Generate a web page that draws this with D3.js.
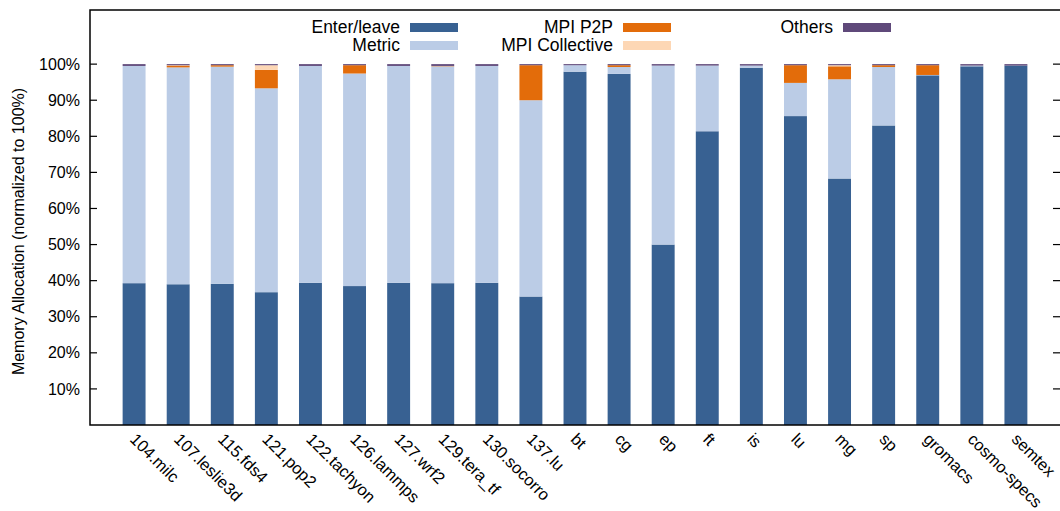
<!DOCTYPE html>
<html>
<head>
<meta charset="utf-8">
<script src="https://cdn.jsdelivr.net/npm/d3@7"></script>
<style>
  body { margin: 0; background: #fff; }
  text { font-family: 'Liberation Sans', Arial, Helvetica, sans-serif; fill: #000; }
</style>
</head>
<body>
<svg id="chart" width="1060" height="511"></svg>
<script>
// benchmarks on the x axis
var categories = ['104.milc', '107.leslie3d', '115.fds4', '121.pop2', '122.tachyon', '126.lammps',
  '127.wrf2', '129.tera_tf', '130.socorro', '137.lu', 'bt', 'cg', 'ep', 'ft', 'is', 'lu', 'mg', 'sp',
  'gromacs', 'cosmo-specs', 'semtex']

// share of memory allocation per category, in percent
var enterLeave = [39.3, 39.0, 39.1, 36.8, 39.4, 38.5, 39.4, 39.3, 39.4, 35.6, 97.9, 97.3, 50.0, 81.4, 99.0, 85.6, 68.3, 83.0, 96.9, 99.4, 99.6]
var metric     = [60.2, 60.1, 60.2, 56.5, 60.1, 58.9, 60.1, 60.1, 60.1, 54.4, 1.8, 1.9, 49.6, 18.2, 0.6, 9.2, 27.5, 16.2, 0.1, 0.2, 0.0]
var mpiP2P     = [0.0, 0.5, 0.4, 5.1, 0.0, 2.3, 0.0, 0.1, 0.0, 9.7, 0.0, 0.5, 0.0, 0.0, 0.0, 4.9, 3.6, 0.5, 2.7, 0.0, 0.0]
var mpiColl    = [0.0, 0.1, 0.0, 1.3, 0.0, 0.0, 0.0, 0.0, 0.0, 0.0, 0.0, 0.0, 0.0, 0.0, 0.0, 0.0, 0.3, 0.0, 0.0, 0.0, 0.0]
var others     = [0.5, 0.3, 0.3, 0.3, 0.5, 0.3, 0.5, 0.5, 0.5, 0.3, 0.3, 0.3, 0.4, 0.4, 0.4, 0.3, 0.3, 0.3, 0.3, 0.4, 0.4]

var yTicks = [10, 20, 30, 40, 50, 60, 70, 80, 90, 100]

var seriesNames = ['Enter/leave', 'Metric', 'MPI P2P', 'MPI Collective', 'Others']
var colors = ['#386192', '#bbcce6', '#e36c0a', '#fdd7b5', '#5f497a']

var table = categories.map((c, i) => ({
  name: c,
  'Enter/leave': enterLeave[i],
  'Metric': metric[i],
  'MPI P2P': mpiP2P[i],
  'MPI Collective': mpiColl[i],
  'Others': others[i]
}))

var svg = d3.select('#chart')
var m = {left: 90, top: 10, right: 1060, bottom: 425}

// gnuplot style xrange [-1:21]
var x = d3.scaleLinear().domain([-1, 21]).range([m.left, m.right])
var y = d3.scaleLinear().domain([0, 115]).range([m.bottom, m.top])
var color = d3.scaleOrdinal().domain(seriesNames).range(colors)
var barW = (x(1) - x(0)) * 0.52

var stacked = d3.stack().keys(seriesNames)(table)

svg.append('g')
  .selectAll('g')
  .data(stacked)
  .join('g')
  .attr('fill', d => color(d.key))
  .selectAll('rect')
  .data(d => d)
  .join('rect')
  .attr('x', (d, i) => x(i) - barW / 2)
  .attr('width', barW)
  .attr('y', d => y(d[1]))
  .attr('height', d => Math.max(0, y(d[0]) - y(d[1])))

// frame
svg.append('rect')
  .attr('x', m.left).attr('y', m.top)
  .attr('width', m.right - m.left + 2).attr('height', m.bottom - m.top)
  .attr('fill', 'none').attr('stroke', '#000').attr('stroke-width', 1.5)

// y ticks, left and mirrored on the right
var ticks = svg.append('g')
ticks.selectAll('.tl').data(yTicks).join('line')
  .attr('x1', m.left).attr('x2', m.left + 7)
  .attr('y1', d => y(d)).attr('y2', d => y(d))
  .attr('stroke', '#000').attr('stroke-width', 1.2)
ticks.selectAll('.tr').data(yTicks).join('line')
  .attr('x1', m.right - 7).attr('x2', m.right)
  .attr('y1', d => y(d)).attr('y2', d => y(d))
  .attr('stroke', '#000').attr('stroke-width', 1.2)
ticks.selectAll('text').data(yTicks).join('text')
  .attr('x', m.left - 10).attr('y', d => y(d))
  .attr('dy', '0.35em')
  .attr('text-anchor', 'end')
  .style('font-size', '16px')
  .text(d => d + '%')

// x labels, rotated
svg.append('g')
  .selectAll('text')
  .data(categories)
  .join('text')
  .attr('transform', (d, i) => `translate(${x(i) + 3},${m.bottom + 7}) rotate(45)`)
  .attr('dy', '0.7em')
  .style('font-size', '16.5px')
  .text(d => d)

svg.append('text')
  .attr('transform', `translate(24,${(m.top + m.bottom) / 2 + 14}) rotate(-90)`)
  .attr('text-anchor', 'middle')
  .style('font-size', '16px')
  .text('Memory Allocation (normalized to 100%)')

// legend, 3 columns
var legendPos = [
  {tx: 400, y: 27}, {tx: 400, y: 45},
  {tx: 613, y: 27}, {tx: 613, y: 45},
  {tx: 833, y: 27}
]
var legend = svg.append('g')
  .selectAll('g')
  .data(seriesNames)
  .join('g')
  .attr('transform', (d, i) => `translate(${legendPos[i].tx},${legendPos[i].y})`)
legend.append('text')
  .attr('text-anchor', 'end')
  .attr('dy', '0.35em')
  .style('font-size', '17.5px')
  .text(d => d)
legend.append('rect')
  .attr('x', 10).attr('y', -4)
  .attr('width', 48).attr('height', 9)
  .attr('fill', d => color(d))
</script>
</body>
</html>
